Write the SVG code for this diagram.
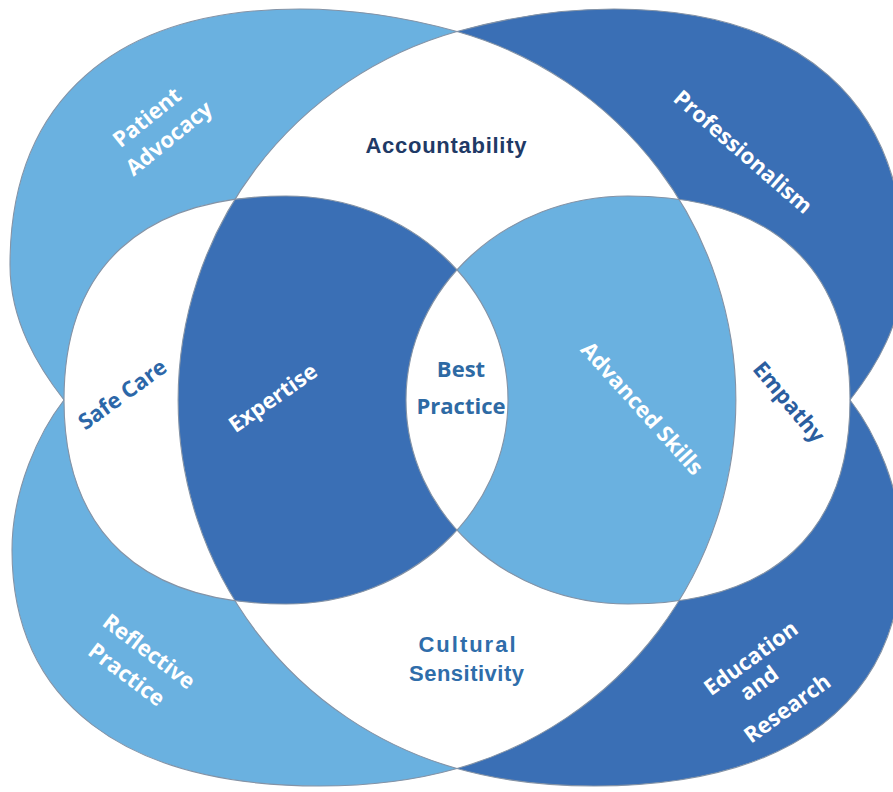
<svg xmlns="http://www.w3.org/2000/svg" width="893" height="792" viewBox="0 0 893 792">
<style>
.light{fill:#6AB1E0}
.dark{fill:#3A6FB5}
.white{fill:#FFFFFF}
.edge{fill:none;stroke:#8493A6;stroke-width:1.1}
.lbl{font-family:"Open Sans","DejaVu Sans",sans-serif;font-weight:700;font-size:22px;text-anchor:middle}
.w{fill:#FFFFFF}
.nar{font-family:"Liberation Sans",Arial,sans-serif;font-weight:700;font-size:22px;text-anchor:middle}
</style>
<defs>
<clipPath id="clipE"><path d="M457,31.5 A382.9,382.9 0 0 0 457,768.5 A382.9,382.9 0 0 0 457,31.5 Z"/></clipPath>
<clipPath id="clipCL"><path d="M286,196 C408.6,196 508,287.3 508,400 C508,512.7 408.6,604 286,604 C141.7,604 64,532.6 64,400 C64,267.4 141.7,196 286,196 Z"/></clipPath>
</defs>
<rect width="893" height="792" fill="#FFFFFF"/>

<g id="patient-advocacy">
<path class="light" d="M64,400 C39,368 10,322 10,265 C10,101.2 114.4,9 300,9 C360,9 412,19 457,31.5 L457,400 Z"/>
<g transform="translate(147,117.5) rotate(-39)">
<text class="lbl w" x="0" y="7.5">Patient</text>
<text class="lbl w" x="4" y="37.5">Advocacy</text>
</g>
</g>
<g id="professionalism">
<path class="dark" d="M850,400 C875,368 904,322 904,265 C904,101.2 799.6,9 614,9 C554,9 502,19 457,31.5 L457,400 Z"/>
<text class="lbl w" transform="translate(743,152) rotate(41)" y="7.5">Professionalism</text>
</g>
<g id="reflective-practice">
<path class="light" d="M64,400 C39,432 12,490 12,550 C12,701 123,786 320,786 C375,786 420,779 457,768.5 L457,400 Z"/>
<g transform="translate(149,651.5) rotate(37)">
<text class="lbl w" x="0" y="7.5">Reflective</text>
<text class="lbl w" x="-4" y="39.5">Practice</text>
</g>
</g>
<g id="education-research">
<path class="dark" d="M850,400 C875,432 902,490 902,550 C902,701 791,786 594,786 C539,786 494,779 457,768.5 L457,400 Z"/>
<g transform="translate(750,657) rotate(-36)">
<text class="lbl w" x="0" y="9" font-size="25">Education</text>
<text class="lbl w" x="-8" y="34" font-size="25">and</text>
<text class="lbl w" x="0" y="71" font-size="25">Research</text>
</g>
</g>

<g id="core">
<path class="white" d="M457,31.5 A382.9,382.9 0 0 0 457,768.5 A382.9,382.9 0 0 0 457,31.5 Z"/>
<text class="nar" x="446" y="153" fill="#1F3A66" textLength="161" lengthAdjust="spacing">Accountability</text>
<text class="nar" x="467" y="652" fill="#2F6DAA" font-size="23" textLength="97" lengthAdjust="spacing">Cultural</text>
<text class="nar" x="466.5" y="681" fill="#2F6DAA" font-size="23" textLength="115" lengthAdjust="spacing">Sensitivity</text>
</g>

<g id="safe-care">
<path class="white" d="M286,196 C408.6,196 508,287.3 508,400 C508,512.7 408.6,604 286,604 C141.7,604 64,532.6 64,400 C64,267.4 141.7,196 286,196 Z"/>
<text class="lbl" fill="#2C67A8" transform="translate(122.5,394.5) rotate(-36)" y="7.5">Safe Care</text>
</g>
<g id="empathy">
<path class="white" d="M628,196 C505.4,196 406,287.3 406,400 C406,512.7 505.4,604 628,604 C772.3,604 850,532.6 850,400 C850,267.4 772.3,196 628,196 Z"/>
<text class="lbl" fill="#2B5E9F" font-size="20" transform="translate(788.5,402.5) rotate(50)" y="7">Empathy</text>
</g>
<g id="expertise">
<path class="dark" clip-path="url(#clipE)" d="M286,196 C408.6,196 508,287.3 508,400 C508,512.7 408.6,604 286,604 C141.7,604 64,532.6 64,400 C64,267.4 141.7,196 286,196 Z"/>
<text class="lbl w" transform="translate(273,398) rotate(-35)" y="7.5">Expertise</text>
</g>
<g id="advanced-skills">
<path class="light" clip-path="url(#clipE)" d="M628,196 C505.4,196 406,287.3 406,400 C406,512.7 505.4,604 628,604 C772.3,604 850,532.6 850,400 C850,267.4 772.3,196 628,196 Z"/>
<text class="lbl w" font-size="21.5" transform="translate(642,408.5) rotate(48)" y="7.5">Advanced Skills</text>
</g>
<g id="best-practice">
<path class="white" clip-path="url(#clipCL)" d="M628,196 C505.4,196 406,287.3 406,400 C406,512.7 505.4,604 628,604 C772.3,604 850,532.6 850,400 C850,267.4 772.3,196 628,196 Z"/>
<text class="lbl" fill="#2E6AA4" x="461" y="377">Best</text>
<text class="lbl" fill="#2E6AA4" x="461" y="414">Practice</text>
</g>

<g id="outlines">
<path class="edge" d="M457,31.5 A382.9,382.9 0 0 0 457,768.5 A382.9,382.9 0 0 0 457,31.5 Z"/>
<path class="edge" d="M286,196 C408.6,196 508,287.3 508,400 C508,512.7 408.6,604 286,604 C141.7,604 64,532.6 64,400 C64,267.4 141.7,196 286,196 Z"/>
<path class="edge" d="M628,196 C505.4,196 406,287.3 406,400 C406,512.7 505.4,604 628,604 C772.3,604 850,532.6 850,400 C850,267.4 772.3,196 628,196 Z"/>
<path class="edge" d="M64,400 C39,368 10,322 10,265 C10,101.2 114.4,9 300,9 C360,9 412,19 457,31.5"/>
<path class="edge" d="M850,400 C875,368 904,322 904,265 C904,101.2 799.6,9 614,9 C554,9 502,19 457,31.5"/>
<path class="edge" d="M64,400 C39,432 12,490 12,550 C12,701 123,786 320,786 C375,786 420,779 457,768.5"/>
<path class="edge" d="M850,400 C875,432 902,490 902,550 C902,701 791,786 594,786 C539,786 494,779 457,768.5"/>
</g>
</svg>
